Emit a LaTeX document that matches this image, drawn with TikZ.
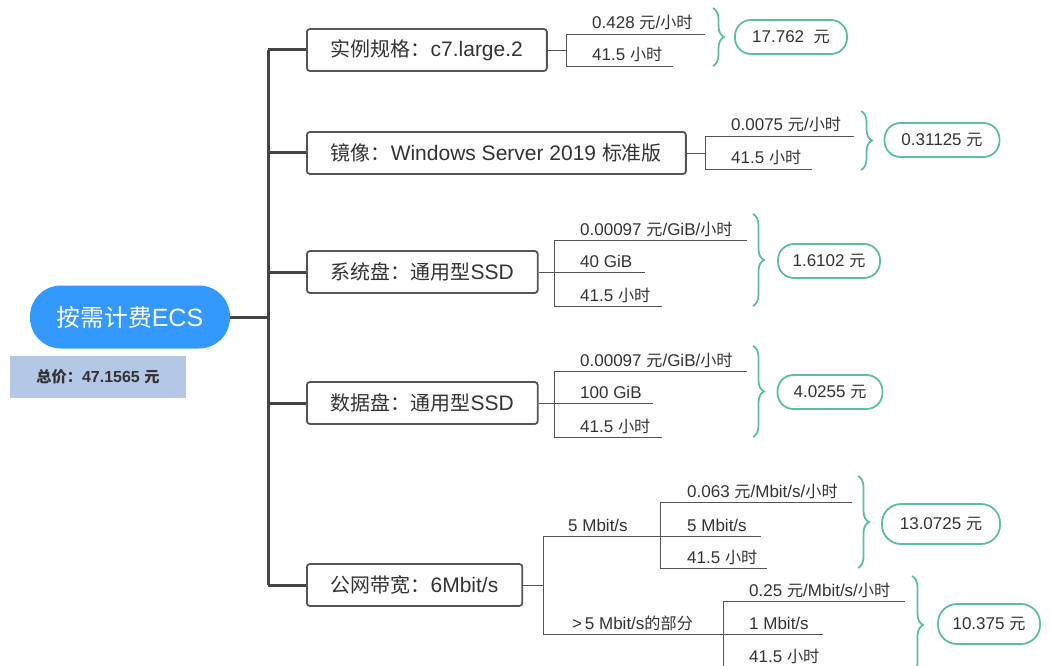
\documentclass[tikz,border=0pt]{standalone}
\usepackage{fontspec}
\setmainfont{Liberation Sans}
\newfontfamily\zhfont[Scale=0.95]{Noto Sans CJK SC}
\newcommand\zh[1]{{\zhfont #1}}
\usetikzlibrary{positioning,calc,decorations.pathreplacing}

\definecolor{rootblue}{RGB}{51,153,255}
\definecolor{sumblue}{RGB}{180,199,231}
\definecolor{pricegreen}{RGB}{92,192,154}
\definecolor{linegray}{RGB}{85,85,85}
\definecolor{trunkgray}{RGB}{68,68,68}
\definecolor{txtgray}{RGB}{51,51,51}

\begin{document}
\begin{tikzpicture}[x=1pt,y=-1pt,
rootnode/.style={
  fill=rootblue,
  text=white,
  rounded corners=31pt,
  minimum width=200pt,
  minimum height=63pt,
  font=\fontsize{25}{28}\selectfont},
sumnode/.style={
  fill=sumblue,
  text=txtgray,
  minimum width=176pt,
  minimum height=42pt,
  font=\fontsize{16}{19}\selectfont\bfseries},
itembox/.style={
  draw=linegray,
  line width=1.8pt,
  rounded corners=3pt,
  anchor=west,
  minimum height=42pt,
  inner xsep=24pt,
  text=txtgray,
  font=\fontsize{21}{24}\selectfont},
leaftext/.style={
  anchor=base west,
  inner sep=0pt,
  text=txtgray,
  font=\fontsize{17}{20}\selectfont},
leafline/.style={draw=linegray, line width=0.9pt},
trunk/.style={draw=trunkgray, line width=3pt},
pricebrace/.style={
  draw=pricegreen,
  line width=1.8pt,
  decorate,
  decoration={brace, amplitude=11pt}},
pricenode/.style={
  draw=pricegreen,
  line width=1.8pt,
  rounded corners=16pt,
  minimum height=34pt,
  text=txtgray,
  font=\fontsize{17}{20}\selectfont}
]
\useasboundingbox (0,0) rectangle (1050,666);

% root and total
\node[rootnode] (ecs) at (130,317) {\zh{按需计费}ECS};
\node[sumnode] (sum) at (98,377) {\zh{总价：}47.1565 \zh{元}};

% items
\node[itembox] (inst) at (306,50) {\zh{实例规格：}c7.large.2};
\node[itembox] (img) at (306,153) {\zh{镜像：}Windows Server 2019 \zh{标准版}};
\node[itembox] (sys) at (306,272) {\zh{系统盘：通用型}SSD};
\node[itembox] (data) at (306,403) {\zh{数据盘：通用型}SSD};
\node[itembox] (net) at (306,585) {\zh{公网带宽：}6Mbit/s};

% trunk
\coordinate (hub) at (268,317);
\draw[trunk] (ecs.east) -- (hub);
\draw[trunk] (hub |- inst.west) -- (hub |- net.west);
\foreach \Item in {inst,img,sys,data,net}
  \draw[trunk] (hub |- \Item.west) -- (\Item.west);

% instance
\draw[leafline] (inst.east) -- (566,50) coordinate (f1);
\draw[leafline] (705,34) coordinate (e1a) -- (566,34) -- (566,66) -- (673,66) coordinate (e1b);
\node[leaftext] (t1a) at (592,29) {0.428 \zh{元}/\zh{小时}};
\node[leaftext] (t1b) at (592,61) {41.5 \zh{小时}};
\draw[pricebrace] (713,8) coordinate (b1t) -- (713,66) coordinate (b1b);
\node[pricenode, minimum width=112pt] (p1) at (791,37) {17.762\ \ \zh{元}};

% image
\draw[leafline] (img.east) -- (705,153) coordinate (f2);
\draw[leafline] (854,136) coordinate (e2a) -- (705,136) -- (705,169) -- (812,169) coordinate (e2b);
\node[leaftext] (t2a) at (731,131) {0.0075 \zh{元}/\zh{小时}};
\node[leaftext] (t2b) at (731,164) {41.5 \zh{小时}};
\draw[pricebrace] (861,111) coordinate (b2t) -- (861,170) coordinate (b2b);
\node[pricenode, minimum width=115pt] (p2) at (942,140) {0.31125 \zh{元}};

% system disk
\draw[leafline] (sys.east) -- (554,272) coordinate (f3);
\draw[leafline] (747,240) coordinate (e3a) -- (554,240) -- (554,306) -- (662,306) coordinate (e3c);
\draw[leafline] (f3) -- (645,272) coordinate (e3b);
\node[leaftext] (t3a) at (580,235) {0.00097 \zh{元}/GiB/\zh{小时}};
\node[leaftext] (t3b) at (580,267) {40 GiB};
\node[leaftext] (t3c) at (580,301) {41.5 \zh{小时}};
\draw[pricebrace] (753,214) coordinate (b3t) -- (753,306) coordinate (b3b);
\node[pricenode, minimum width=102pt] (p3) at (829,261) {1.6102 \zh{元}};

% data disk
\draw[leafline] (data.east) -- (554,403) coordinate (f4);
\draw[leafline] (747,371) coordinate (e4a) -- (554,371) -- (554,437) -- (662,437) coordinate (e4c);
\draw[leafline] (f4) -- (653,403) coordinate (e4b);
\node[leaftext] (t4a) at (580,366) {0.00097 \zh{元}/GiB/\zh{小时}};
\node[leaftext] (t4b) at (580,398) {100 GiB};
\node[leaftext] (t4c) at (580,432) {41.5 \zh{小时}};
\draw[pricebrace] (753,346) coordinate (b4t) -- (753,437) coordinate (b4b);
\node[pricenode, minimum width=105pt] (p4) at (830,392) {4.0255 \zh{元}};

% bandwidth
\draw[leafline] (net.east) -- (543,585) coordinate (f5);
\draw[leafline] (660,536) coordinate (f5a) -- (543,536) -- (543,634) -- (723,634) coordinate (f5b);
\node[leaftext] (t5a) at (568,531) {5 Mbit/s};
\node[leaftext] (t5b) at (572,629) {>\,5 Mbit/s\zh{的部分}};

\draw[leafline] (852,502) coordinate (e5a) -- (660,502) -- (660,568) -- (767,568) coordinate (e5c);
\draw[leafline] (f5a) -- (761,536) coordinate (e5b);
\node[leaftext] (t5aa) at (687,497) {0.063 \zh{元}/Mbit/s/\zh{小时}};
\node[leaftext] (t5ab) at (687,531) {5 Mbit/s};
\node[leaftext] (t5ac) at (687,563) {41.5 \zh{小时}};
\draw[pricebrace] (858,476) coordinate (b5t) -- (858,568) coordinate (b5b);
\node[pricenode, minimum width=118pt, minimum height=40pt, rounded corners=19pt] (p5) at (941,524) {13.0725 \zh{元}};

\draw[leafline] (905,601) coordinate (e6a) -- (723,601) -- (723,667) -- (830,667) coordinate (e6c);
\draw[leafline] (f5b) -- (823,634) coordinate (e6b);
\node[leaftext] (t6a) at (749,596) {0.25 \zh{元}/Mbit/s/\zh{小时}};
\node[leaftext] (t6b) at (749,629) {1 Mbit/s};
\node[leaftext] (t6c) at (749,662) {41.5 \zh{小时}};
\draw[pricebrace] (912,576) coordinate (b6t) -- (912,674) coordinate (b6b);
\node[pricenode, minimum width=102pt, minimum height=40pt, rounded corners=19pt] (p6) at (989,624) {10.375 \zh{元}};
\end{tikzpicture}
\end{document}
